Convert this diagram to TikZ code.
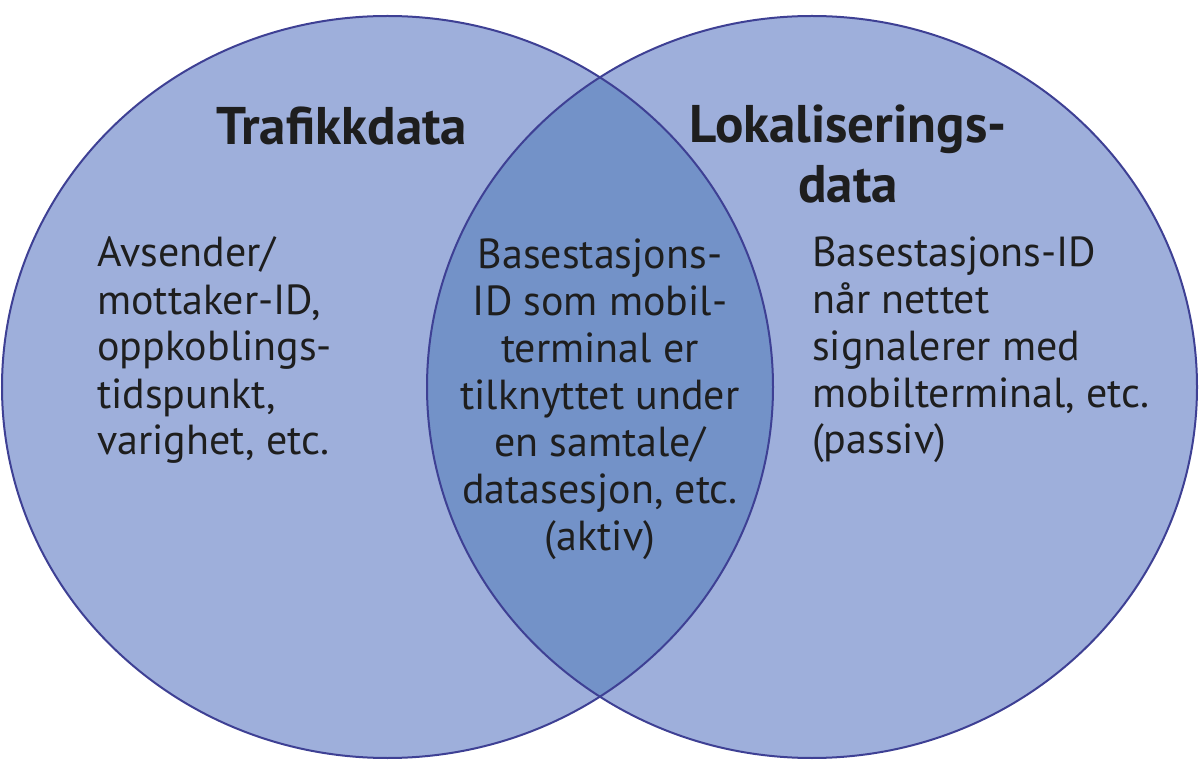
\documentclass[tikz,border=0pt]{standalone}
\usepackage{fontspec}
\setmainfont{PT Sans}
\definecolor{lightfill}{RGB}{158,175,219}
\definecolor{darkfill}{RGB}{115,146,200}
\definecolor{edge}{RGB}{62,64,148}
\definecolor{txt}{RGB}{30,30,30}
\begin{document}
\begin{tikzpicture}[x=1pt,y=-1pt,
  setedge/.style={draw=edge,line width=2pt},
  title/.style={inner sep=0pt,text=txt,font=\bfseries\fontsize{53}{60}\selectfont,align=center},
  body/.style={inner sep=0pt,text=txt,font=\fontsize{42}{47}\selectfont},
]
\useasboundingbox (0,0) rectangle (1200,775);
\fill[lightfill] (387.5,387) ellipse [x radius=385.5, y radius=371];
\fill[lightfill] (812,387) ellipse [x radius=385, y radius=371];
\begin{scope}
  \clip (387.5,387) ellipse [x radius=385.5, y radius=371];
  \fill[darkfill] (812,387) ellipse [x radius=385, y radius=371];
\end{scope}
\draw[setedge] (387.5,387) ellipse [x radius=385.5, y radius=371];
\draw[setedge] (812,387) ellipse [x radius=385, y radius=371];

\node[title,anchor=base] (t1) at (342,145) {Trafikkdata};
\node[title,anchor=base] (t2) at (848,203) {Lokaliserings-\\data};

\node[body,align=left,anchor=base west] (b1) at (97,455) {Avsender/\\mottaker-ID,\\oppkoblings-\\tidspunkt,\\varighet, etc.};
\node[body,align=center,anchor=base] (b2) at (600,550) {Basestasjons-\\ID som mobil-\\terminal er\\tilknyttet under\\en samtale/\\datasesjon, etc.\\(aktiv)};
\node[body,align=left,anchor=base west] (b3) at (812,454) {Basestasjons-ID\\når nettet\\signalerer med\\mobilterminal, etc.\\(passiv)};
\end{tikzpicture}
\end{document}
